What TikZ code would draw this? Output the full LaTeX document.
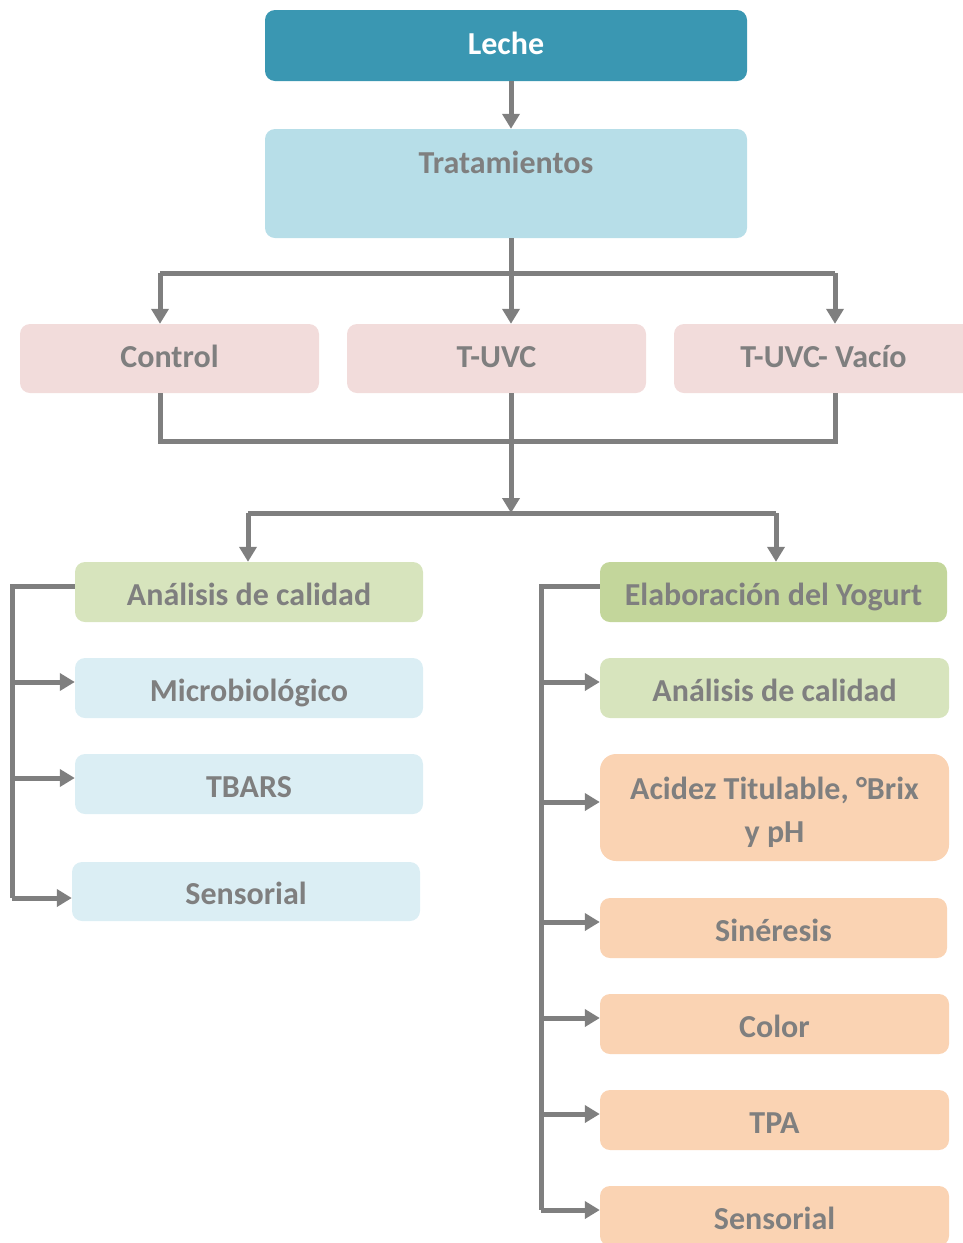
\documentclass[tikz,border=0pt]{standalone}
\usepackage{fontspec}
\setmainfont{Carlito}
\usetikzlibrary{arrows.meta}
\definecolor{tealc}{HTML}{3A97B2}
\definecolor{tratc}{HTML}{B7DEE8}
\definecolor{pinkc}{HTML}{F2DCDB}
\definecolor{dgreenc}{HTML}{C3D69B}
\definecolor{lgreenc}{HTML}{D7E4BD}
\definecolor{lbluec}{HTML}{DBEEF4}
\definecolor{peachc}{HTML}{FAD3B3}
\definecolor{grayc}{HTML}{7F7F7F}
\tikzset{
  box/.style={rectangle, rounded corners=10pt, draw=none, inner sep=0pt,
    text=grayc, font=\bfseries\fontsize{32}{45}\selectfont, align=center,
    text height=21pt, text depth=4pt},
  sbox/.style={box, minimum height=60pt, text height=26pt, text depth=0pt},
  lbl/.style={inner sep=0pt, text=grayc, font=\bfseries\fontsize{32}{45}\selectfont,
    text height=21pt, text depth=0pt},
  conn/.style={draw=grayc, line width=5pt, line join=miter},
  arr/.style={conn, -{Triangle[width=17pt,length=15pt]}}
}
\begin{document}
\begin{tikzpicture}[x=1pt,y=-1pt]
\useasboundingbox (0,0) rectangle (963,1243);
\clip (0,0) rectangle (963,1243);
% top
\node[box, fill=tealc, text=white, minimum width=482pt, minimum height=71pt] (leche) at (506,45.5) {Leche};
\node[box, fill=tratc, minimum width=482pt, minimum height=109pt] (trat) at (506,183.5) {};
\node[lbl] (tratl) at (506,163) {Tratamientos};
% treatments
\node[box, fill=pinkc, minimum width=299pt, minimum height=69pt] (ctrl) at (169.5,358.5) {Control};
\node[box, fill=pinkc, minimum width=299pt, minimum height=69pt] (tuvc) at (496.5,358.5) {T-UVC};
\node[box, fill=pinkc, minimum width=299pt, minimum height=69pt] (tuvcv) at (823.5,358.5) {T-UVC- Vacío};
% left column
\node[sbox, fill=lgreenc, minimum width=348pt] (qa) at (249,592) {Análisis de calidad};
\node[sbox, fill=lbluec, minimum width=348pt] (micro) at (249,688) {Microbiológico};
\node[sbox, fill=lbluec, minimum width=348pt] (tbars) at (249,784) {TBARS};
\node[sbox, fill=lbluec, minimum width=348pt, minimum height=59pt] (sensA) at (246,891.5) {Sensorial};
% right column
\node[sbox, fill=dgreenc, minimum width=347pt] (elab) at (773.5,592) {Elaboración del Yogurt};
\node[sbox, fill=lgreenc, minimum width=349pt] (qa2) at (774.5,688) {Análisis de calidad};
\node[box, fill=peachc, minimum width=349pt, minimum height=107pt, rounded corners=16pt] (acid) at (774.5,807.5) {};
\node[lbl] (acidl1) at (774.5,789) {Acidez Titulable, °Brix};
\node[lbl] (acidl2) at (774.5,832) {y pH};
\node[sbox, fill=peachc, minimum width=347pt] (sin) at (773.5,928) {Sinéresis};
\node[sbox, fill=peachc, minimum width=349pt] (col) at (774.5,1024) {Color};
\node[sbox, fill=peachc, minimum width=349pt] (tpa) at (774.5,1120) {TPA};
\node[sbox, fill=peachc, minimum width=349pt] (sensB) at (774.5,1216) {Sensorial};
% connectors top
\draw[arr] (leche.south -| 511,0) -- (trat.north -| 511,0);
\coordinate (hl) at (160,273);
\coordinate (hr) at (835,273);
\draw[conn] (trat.south -| 511,0) -- (511,273);
\draw[conn] (hl) -- (hr);
\draw[arr] (hl) -- (ctrl.north -| hl);
\draw[arr] (511,273) -- (tuvc.north -| 511,0);
\draw[arr] (hr) -- (tuvcv.north -| hr);
% merge
\coordinate (ml) at (160,441);
\coordinate (mr) at (835,441);
\draw[conn] (ctrl.south -| ml) -- (ml) -- (mr) -- (tuvcv.south -| mr);
\draw[conn] (tuvc.south -| 511,0) -- (511,441);
\coordinate (sl) at (248,513);
\coordinate (sr) at (776,513);
\coordinate (sm) at (511,513);
\draw[arr] (511,441) -- (sm);
\draw[conn] (sl) -- (sr);
\draw[arr] (sl) -- (qa.north -| sl);
\draw[arr] (sr) -- (elab.north -| sr);
% left bracket
\coordinate (lb1) at (12,586);
\coordinate (lb2) at (12,898);
\draw[conn] (qa.west |- lb1) -- (lb1) -- (lb2);
\draw[arr] (12,682) -- (micro.west |- 0,682);
\draw[arr] (12,778) -- (tbars.west |- 0,778);
\draw[arr] (lb2) -- (sensA.west |- lb2);
% right bracket
\coordinate (rb1) at (541,586);
\coordinate (rb2) at (541,1210);
\draw[conn] (elab.west |- rb1) -- (rb1) -- (rb2);
\draw[arr] (541,682) -- (qa2.west |- 0,682);
\draw[arr] (541,802) -- (acid.west |- 0,802);
\draw[arr] (541,922) -- (sin.west |- 0,922);
\draw[arr] (541,1018) -- (col.west |- 0,1018);
\draw[arr] (541,1114) -- (tpa.west |- 0,1114);
\draw[arr] (rb2) -- (sensB.west |- rb2);
\end{tikzpicture}
\end{document}
